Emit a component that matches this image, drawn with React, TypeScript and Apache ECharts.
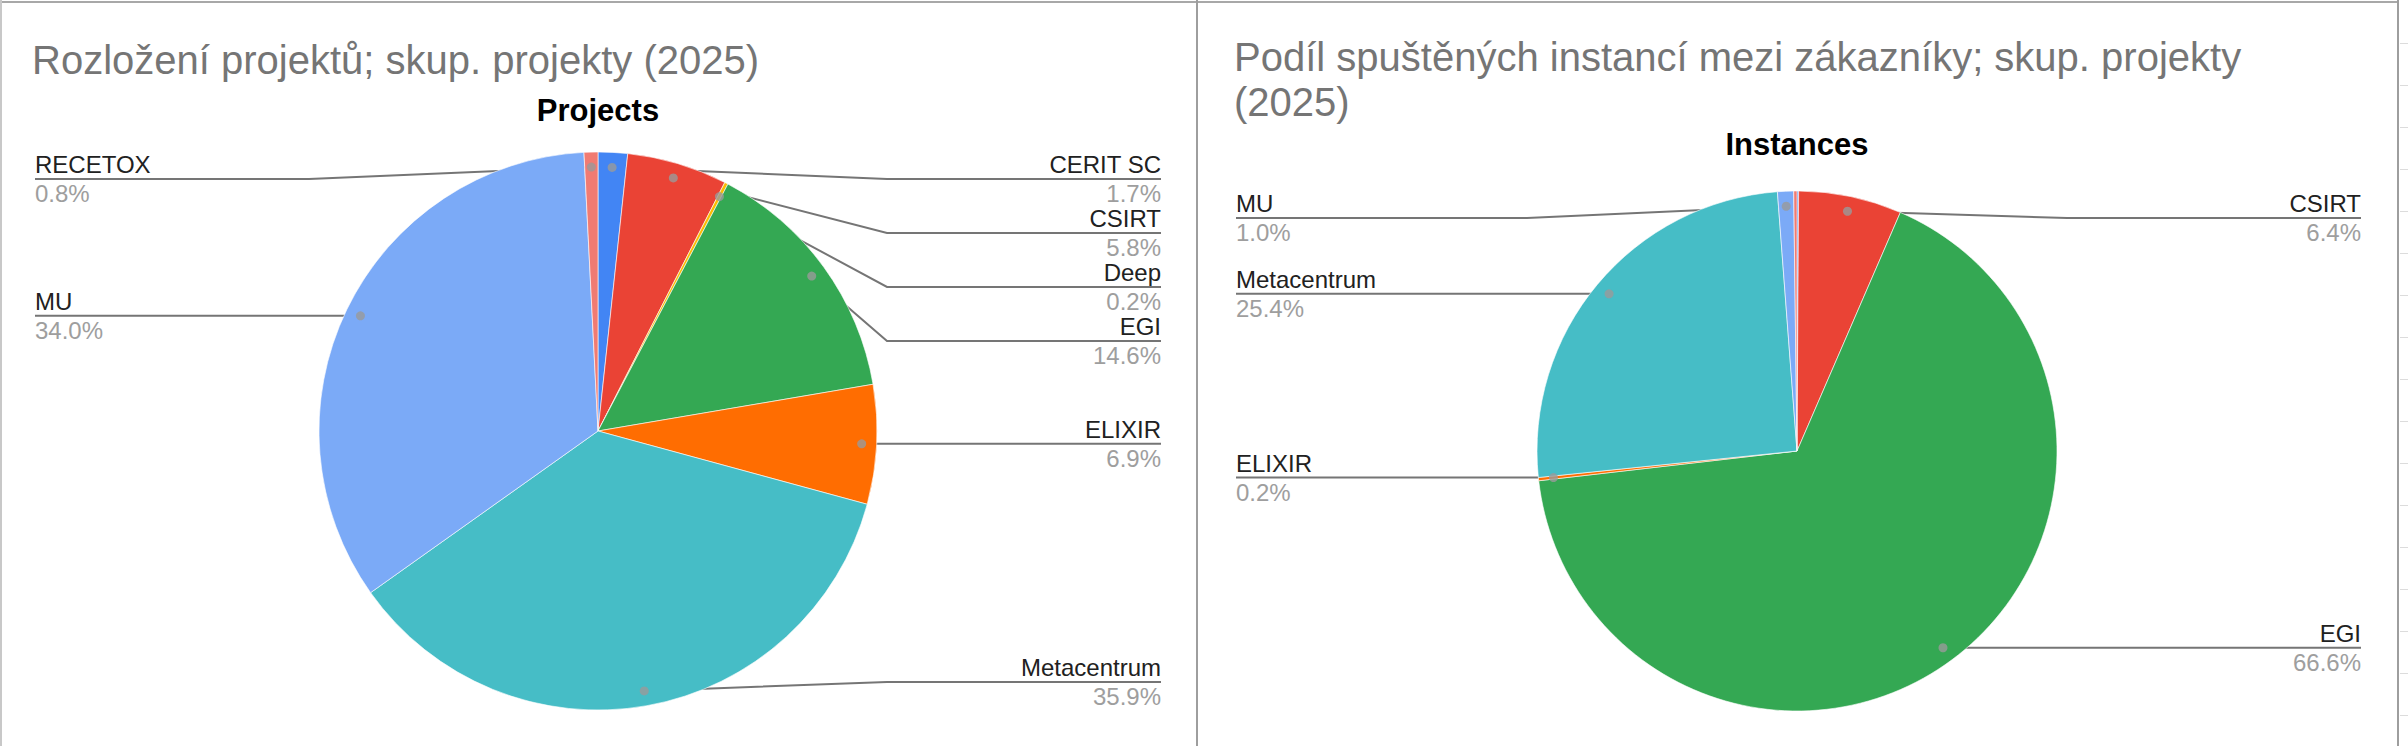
import React, { useEffect, useRef } from "react";
import * as echarts from "echarts";

// ---------------- data ----------------
const projectsTitle = "Rozložení projektů; skup. projekty (2025)";
const projectsSubtitle = "Projects";
const projectNames = ["CERIT SC", "CSIRT", "Deep", "EGI", "ELIXIR", "Metacentrum", "MU", "RECETOX"];
const projectShares = [1.7, 5.8, 0.2, 14.6, 6.9, 35.9, 34.0, 0.8];

const instancesTitleLines = ["Podíl spuštěných instancí mezi zákazníky; skup. projekty", "(2025)"];
const instancesSubtitle = "Instances";
const instanceNames = ["CERIT SC", "CSIRT", "EGI", "ELIXIR", "Metacentrum", "MU", "RECETOX"];
const instanceShares = [0.1, 6.4, 66.6, 0.2, 25.4, 1.0, 0.2];
const instanceUnlabeled = ["CERIT SC", "RECETOX"];

const customerColors: Record<string, string> = {
  "CERIT SC": "#4285F4",
  CSIRT: "#EA4335",
  Deep: "#FBBC04",
  EGI: "#34A853",
  ELIXIR: "#FF6D01",
  Metacentrum: "#46BDC6",
  MU: "#7BAAF7",
  RECETOX: "#F07B72",
};

// ---------------- layout ----------------
const W = 2408;
const H = 746;
const FONT = '"Liberation Sans", Arial, Helvetica, sans-serif';
const DOT_INSET = 15;
const BEND_OUT = 10;
const LABEL_LINE_H = 29;
const LABEL_GAP = 54;
const LABEL_HALF = 27;

const PIES = [
  { cx: 598, cy: 431, r: 279, boxLeft: 35, boxRight: 1161, boxTop: 152, boxBottom: 709 },
  { cx: 1797, cy: 451, r: 260, boxLeft: 1236, boxRight: 2361, boxTop: 191, boxBottom: 709 },
];

function sum(a: number[]) {
  return a.reduce((s, v) => s + v, 0);
}

function midpoints(values: number[]) {
  const out: number[] = [];
  let acc = 0;
  for (const v of values) {
    out.push(acc + v / 2);
    acc += v;
  }
  return out;
}

// Google-style label stacking: each label starts at the height of its slice's dot,
// then labels on one side are pushed apart and kept inside the chart area.
function resolveLabelY(cfg: (typeof PIES)[number], names: string[], values: number[], unlabeled: string[]) {
  const total = sum(values);
  const mids = midpoints(values);
  const items: { i: number; y: number; right: boolean }[] = [];
  names.forEach((name, i) => {
    if (unlabeled.includes(name)) return;
    const theta = (mids[i] / total) * Math.PI * 2;
    items.push({ i, y: cfg.cy - (cfg.r - DOT_INSET) * Math.cos(theta), right: Math.sin(theta) >= 0 });
  });
  const out: Record<number, number> = {};
  const minC = cfg.boxTop + LABEL_HALF;
  const maxC = cfg.boxBottom - LABEL_HALF;
  for (const side of [true, false]) {
    const list = items.filter((it) => it.right === side).sort((a, b) => a.y - b.y);
    let prev = -Infinity;
    for (const it of list) {
      it.y = Math.max(it.y, minC, prev + LABEL_GAP);
      prev = it.y;
    }
    let next = Infinity;
    for (let k = list.length - 1; k >= 0; k--) {
      list[k].y = Math.min(list[k].y, maxC, next - LABEL_GAP);
      next = list[k].y;
    }
    list.forEach((it) => (out[it.i] = it.y));
  }
  return out;
}

function makeLabelLayout(cfg: (typeof PIES)[number], yMap: Record<number, number>) {
  return (params: any) => {
    const pts = params.labelLinePoints;
    const rect = params.labelRect;
    if (!pts || !rect) return {};
    const p0 = pts[0];
    const k = (cfg.r - DOT_INSET) / cfg.r;
    const start = [cfg.cx + (p0[0] - cfg.cx) * k, cfg.cy + (p0[1] - cfg.cy) * k];
    const y = yMap[params.dataIndex] != null ? yMap[params.dataIndex] : rect.y + rect.height / 2;
    const right = rect.x + rect.width / 2 > cfg.cx;
    const bendX = right ? cfg.cx + cfg.r + BEND_OUT : cfg.cx - cfg.r - BEND_OUT;
    const endX = right ? rect.x + rect.width : rect.x;
    return { y, verticalAlign: "middle", labelLinePoints: [start, [bendX, y], [endX, y]] };
  };
}

const labelRich = {
  n: { fontSize: 24, lineHeight: LABEL_LINE_H, color: "#212121", fontFamily: FONT },
  p: { fontSize: 24, lineHeight: LABEL_LINE_H, color: "#9e9e9e", fontFamily: FONT },
};

function pieSeries(idx: number, names: string[], values: number[], unlabeled: string[]) {
  const cfg = PIES[idx];
  const yMap = resolveLabelY(cfg, names, values, unlabeled);
  return {
    type: "pie",
    left: cfg.boxLeft,
    top: cfg.boxTop,
    width: cfg.boxRight - cfg.boxLeft,
    height: cfg.boxBottom - cfg.boxTop,
    center: [cfg.cx - cfg.boxLeft, cfg.cy - cfg.boxTop],
    radius: cfg.r,
    startAngle: 90,
    clockwise: true,
    avoidLabelOverlap: false,
    silent: true,
    z: 2,
    data: names.map((name, i) => {
      const hide = unlabeled.includes(name);
      return {
        name,
        value: values[i],
        itemStyle: { color: customerColors[name] },
        label: { show: !hide },
        labelLine: { show: !hide },
      };
    }),
    itemStyle: { borderColor: "#ffffff", borderWidth: 0.6 },
    label: {
      show: true,
      position: "outer",
      alignTo: "edge",
      edgeDistance: 0,
      distanceToLabelLine: 0,
      formatter: (p: any) => `{n|${p.name}}\n{p|${Number(p.value).toFixed(1)}%}`,
      rich: labelRich,
    },
    labelLine: {
      show: true,
      length: -DOT_INSET,
      length2: 10,
      smooth: false,
      lineStyle: { color: "#757575", width: 2 },
    },
    labelLayout: makeLabelLayout(cfg, yMap),
  };
}

function dotSeries(idx: number, names: string[], values: number[], unlabeled: string[]) {
  const cfg = PIES[idx];
  const mids = midpoints(values);
  return {
    type: "scatter",
    coordinateSystem: "polar",
    polarIndex: idx,
    symbol: "circle",
    symbolSize: 9,
    silent: true,
    z: 5,
    itemStyle: { color: "#9a9a9a" },
    data: names
      .map((name, i) => (unlabeled.includes(name) ? null : [cfg.r - DOT_INSET, mids[i]]))
      .filter((d) => d !== null),
  };
}

function frameGraphics() {
  const g: any[] = [
    { type: "rect", shape: { x: 0, y: 1, width: 2399, height: 2 }, style: { fill: "#a8a8a8" }, silent: true },
    { type: "rect", shape: { x: 0, y: 0, width: 2, height: H }, style: { fill: "#c8c8c8" }, silent: true },
    { type: "rect", shape: { x: 1196, y: 0, width: 2, height: H }, style: { fill: "#9e9e9e" }, silent: true },
    { type: "rect", shape: { x: 2397, y: 0, width: 2, height: H }, style: { fill: "#9e9e9e" }, silent: true },
  ];
  for (let y = 43; y < H; y += 42) {
    g.push({ type: "rect", shape: { x: 2400, y, width: 8, height: 1 }, style: { fill: "#dcdcdc" }, silent: true });
  }
  const text = (
    x: number,
    y: number,
    s: string,
    size: number,
    color: string,
    bold = false,
    align = "left",
    lineHeight?: number
  ) => ({
    type: "text",
    x,
    y,
    silent: true,
    style: {
      text: s,
      fill: color,
      fontSize: size,
      fontFamily: FONT,
      fontWeight: bold ? "bold" : "normal",
      lineHeight: lineHeight,
      align,
      verticalAlign: "middle",
      textAlign: align,
      textVerticalAlign: "middle",
    },
  });
  g.push(text(32, 60, projectsTitle, 40, "#757575"));
  g.push(text(1234, 79.5, instancesTitleLines.join("\n"), 40, "#757575", false, "left", 45));
  g.push(text(PIES[0].cx, 110.5, projectsSubtitle, 31, "#000000", true, "center"));
  g.push(text(PIES[1].cx, 144.5, instancesSubtitle, 31, "#000000", true, "center"));
  return g;
}

export default function App() {
  const ref = useRef<HTMLDivElement>(null);

  useEffect(() => {
    document.body.style.margin = "0";
    document.body.style.background = "#ffffff";
    if (!ref.current) return;
    const chart = echarts.init(ref.current, undefined, { renderer: "svg", width: W, height: H });
    const option: any = {
      animation: false,
      backgroundColor: "#ffffff",
      textStyle: { fontFamily: FONT },
      tooltip: { show: false },
      polar: PIES.map((p) => ({ center: [p.cx, p.cy], radius: p.r })),
      angleAxis: [
        { polarIndex: 0, type: "value", min: 0, max: sum(projectShares), startAngle: 90, clockwise: true, show: false },
        { polarIndex: 1, type: "value", min: 0, max: sum(instanceShares), startAngle: 90, clockwise: true, show: false },
      ],
      radiusAxis: [
        { polarIndex: 0, type: "value", min: 0, max: PIES[0].r, show: false },
        { polarIndex: 1, type: "value", min: 0, max: PIES[1].r, show: false },
      ],
      graphic: frameGraphics(),
      series: [
        pieSeries(0, projectNames, projectShares, []),
        pieSeries(1, instanceNames, instanceShares, instanceUnlabeled),
        dotSeries(0, projectNames, projectShares, []),
        dotSeries(1, instanceNames, instanceShares, instanceUnlabeled),
      ],
    };
    chart.setOption(option);
    return () => {
      chart.dispose();
    };
  }, []);

  return (
    <div
      ref={ref}
      style={{ position: "fixed", left: 0, top: 0, width: W, height: H, background: "#ffffff" }}
    />
  );
}
